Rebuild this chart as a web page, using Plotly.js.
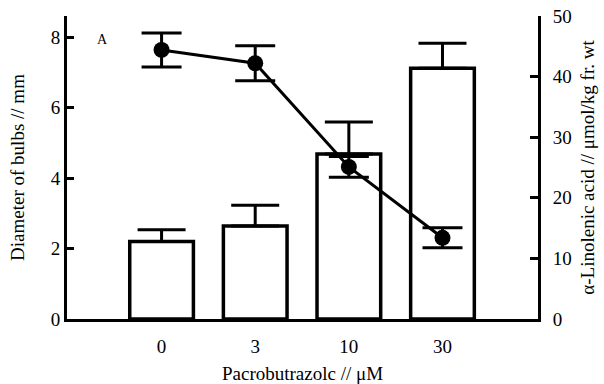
<!DOCTYPE html>
<html>
<head>
<meta charset="utf-8">
<script src="https://cdn.plot.ly/plotly-3.0.1.min.js"></script>
<style>html,body{margin:0;padding:0;background:#fff;}#chart{width:604px;height:384px;}</style>
</head>
<body>
<div id="chart"></div>
<script>
// Data
const categories = ["0", "3", "10", "30"];
const bulbDiameter = [2.2, 2.64, 4.68, 7.12];        // mm (bars, left axis)
const bulbDiameterErr = [0.33, 0.59, 0.91, 0.71];
const linolenic = [44.4, 42.2, 25.1, 13.4];          // µmol/kg fr.wt (line, right axis)
const linolenicErr = [2.8, 2.9, 1.7, 1.65];
const zeros = [0, 0, 0, 0];

const FONT = "Liberation Serif, Times New Roman, serif";

const bars = {
  type: "bar",
  x: categories,
  y: bulbDiameter,
  width: 0.68,
  marker: {color: "#ffffff", line: {color: "#000000", width: 3.5}},
  error_y: {type: "data", array: bulbDiameterErr, arrayminus: zeros, symmetric: false,
            color: "#000000", thickness: 3, width: 24},
  yaxis: "y",
  showlegend: false,
  hoverinfo: "skip"
};

const line = {
  type: "scatter",
  mode: "lines+markers",
  x: categories,
  y: linolenic,
  yaxis: "y2",
  line: {color: "#000000", width: 3},
  marker: {color: "#000000", size: 16, symbol: "circle"},
  error_y: {type: "data", array: linolenicErr, color: "#000000", thickness: 3, width: 20},
  showlegend: false,
  hoverinfo: "skip"
};

const layout = {
  width: 604, height: 384,
  margin: {l: 67, r: 66, t: 16, b: 65},
  paper_bgcolor: "#ffffff",
  plot_bgcolor: "#ffffff",
  font: {family: FONT, size: 19, color: "#000000"},
  showlegend: false,
  xaxis: {
    type: "category",
    range: [-1.01, 4.02],
    showline: true, linecolor: "#000000", linewidth: 3,
    ticks: "", showgrid: false, zeroline: false,
    ticklabelstandoff: 8,
    tickfont: {family: FONT, size: 19},
    title: {text: "Pacrobutrazolc // μM", font: {family: FONT, size: 19}, standoff: 15},
    automargin: false
  },
  yaxis: {
    range: [0, 8.6],
    tickvals: [0, 2, 4, 6, 8],
    showline: true, linecolor: "#000000", linewidth: 3,
    ticks: "inside", ticklen: 7, tickwidth: 3, tickcolor: "#000000",
    showgrid: false, zeroline: false,
    ticklabelstandoff: -2.5,
    tickfont: {family: FONT, size: 19},
    title: {text: "Diameter of bulbs // mm", font: {family: FONT, size: 19}, standoff: 22},
    automargin: false
  },
  yaxis2: {
    overlaying: "y",
    side: "right",
    range: [0, 50],
    tickvals: [0, 10, 20, 30, 40, 50],
    showline: true, linecolor: "#000000", linewidth: 3,
    ticks: "inside", ticklen: 8, tickwidth: 3, tickcolor: "#000000",
    showgrid: false, zeroline: false,
    ticklabelstandoff: 8,
    tickfont: {family: FONT, size: 19},
    title: {text: "α-Linolenic acid // μmol/kg fr. wt", font: {family: FONT, size: 19}, standoff: 10},
    automargin: false
  },
  annotations: [{
    text: "A", xref: "paper", yref: "paper", x: 0.059, y: 0.954,
    showarrow: false, font: {family: FONT, size: 14, color: "#000000"}
  }]
};

Plotly.newPlot("chart", [bars, line], layout, {displayModeBar: false, staticPlot: true});
</script>
</body>
</html>
